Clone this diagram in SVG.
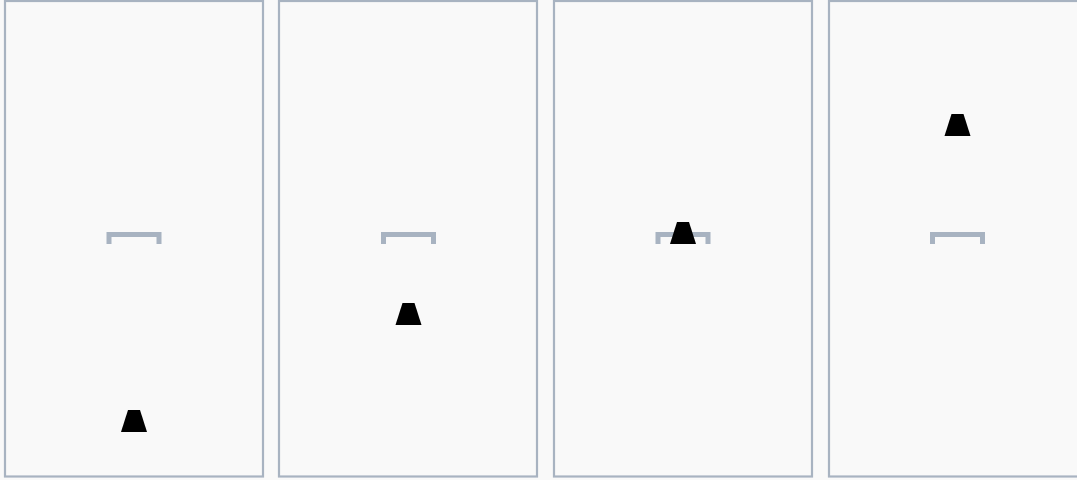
<svg xmlns="http://www.w3.org/2000/svg" width="1077" height="480" viewBox="0 0 1077 480">
<style>
.panel{fill:#f9f9f9;stroke:#a8b3c1;stroke-width:2.2}
.bracket{fill:none;stroke:#a8b3c1;stroke-width:5}
.puck{fill:#000}
</style>
<defs>
<path id="br" class="bracket" d="M-25 244V234.5H25V244"/>
<path id="tz" class="puck" d="M-6 0H6L13 22H-13Z"/>
</defs>
<rect width="1077" height="480" fill="#f9f9f9"/>
<g id="panel1">
<rect class="panel" x="5" y="1" width="258" height="475.5"/>
<use href="#br" x="134"/>
<use href="#tz" transform="translate(134 410)"/>
</g>
<g id="panel2">
<rect class="panel" x="279" y="1" width="258" height="475.5"/>
<use href="#br" x="408.5"/>
<use href="#tz" transform="translate(408.5 303)"/>
</g>
<g id="panel3">
<rect class="panel" x="554" y="1" width="258" height="475.5"/>
<use href="#br" x="683"/>
<use href="#tz" transform="translate(683 222)"/>
</g>
<g id="panel4">
<rect class="panel" x="829" y="1" width="258" height="475.5"/>
<use href="#br" x="957.5"/>
<use href="#tz" transform="translate(957.5 114)"/>
</g>
<g id="connectors"></g>
</svg>
